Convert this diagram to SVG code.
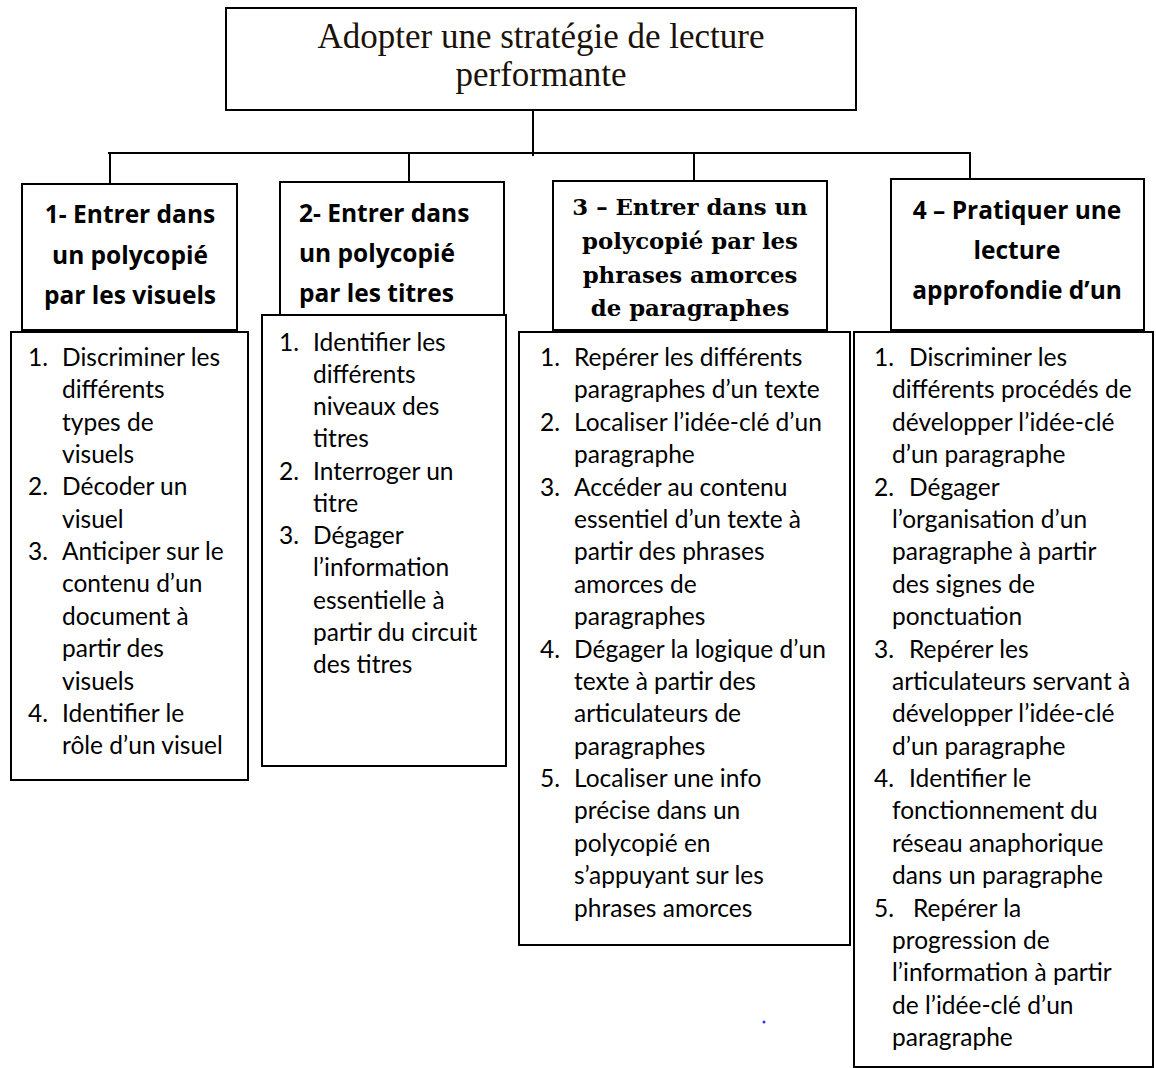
<svg xmlns="http://www.w3.org/2000/svg" width="1156" height="1068" viewBox="0 0 1156 1068">
<style>
.box{fill:#fff;stroke:#000;stroke-width:2}
.ln{stroke:#000;stroke-width:2;fill:none}
.title{font-family:"Liberation Serif",serif;font-size:35px;fill:#1a1208;text-anchor:middle}
.hs{font-family:"Open Sans",Lato,"Liberation Sans",sans-serif;font-weight:bold;font-size:24.5px;fill:#000}
.hser{font-family:"DejaVu Serif","Liberation Serif",serif;font-weight:bold;font-size:22.8px;fill:#000;text-anchor:middle}
.li{font-family:Lato,"Liberation Sans",sans-serif;font-size:24.5px;fill:#000}
.c{text-anchor:middle}
</style>
<rect width="1156" height="1068" fill="#fff"/>
<g id="connectors">
<line class="ln" x1="533" y1="110" x2="533" y2="156"/>
<line class="ln" x1="108" y1="153" x2="971" y2="153"/>
<line class="ln" x1="110" y1="153" x2="110" y2="184"/>
<line class="ln" x1="409" y1="153" x2="409" y2="182"/>
<line class="ln" x1="694" y1="153" x2="694" y2="181"/>
<line class="ln" x1="970" y1="153" x2="970" y2="179"/>
</g>
<g id="node-root">
<rect class="box" x="226" y="8" width="630" height="102"/>
<text class="title" x="541" y="48">Adopter une stratégie de lecture</text>
<text class="title" x="541" y="86">performante</text>
</g>
<g id="node-1">
<rect class="box" x="22" y="184" width="215" height="146"/>
<text class="hs c" x="130" y="223">1- Entrer dans</text>
<text class="hs c" x="130" y="264">un polycopié</text>
<text class="hs c" x="130" y="304">par les visuels</text>
</g>
<g id="node-1-list">
<rect class="box" x="11" y="332" width="237" height="448"/>
<text class="li" x="28" y="366">1.</text>
<text class="li" x="62" y="366">Discriminer les</text>
<text class="li" x="62" y="398">différents</text>
<text class="li" x="62" y="431">types de</text>
<text class="li" x="62" y="463">visuels</text>
<text class="li" x="28" y="495">2.</text>
<text class="li" x="62" y="495">Décoder un</text>
<text class="li" x="62" y="528">visuel</text>
<text class="li" x="28" y="560">3.</text>
<text class="li" x="62" y="560">Anticiper sur le</text>
<text class="li" x="62" y="592">contenu d’un</text>
<text class="li" x="62" y="625">document à</text>
<text class="li" x="62" y="657">partir des</text>
<text class="li" x="62" y="690">visuels</text>
<text class="li" x="28" y="722">4.</text>
<text class="li" x="62" y="722">Identifier le</text>
<text class="li" x="62" y="754">rôle d’un visuel</text>
</g>
<g id="node-2">
<rect class="box" x="280" y="182" width="224" height="133"/>
<text class="hs" x="299" y="222">2- Entrer dans</text>
<text class="hs" x="299" y="262">un polycopié</text>
<text class="hs" x="299" y="302">par les titres</text>
</g>
<g id="node-2-list">
<rect class="box" x="262" y="315" width="244" height="451"/>
<text class="li" x="279" y="351">1.</text>
<text class="li" x="313" y="351">Identifier les</text>
<text class="li" x="313" y="383">différents</text>
<text class="li" x="313" y="415">niveaux des</text>
<text class="li" x="313" y="447">titres</text>
<text class="li" x="279" y="480">2.</text>
<text class="li" x="313" y="480">Interroger un</text>
<text class="li" x="313" y="512">titre</text>
<text class="li" x="279" y="544">3.</text>
<text class="li" x="313" y="544">Dégager</text>
<text class="li" x="313" y="576">l’information</text>
<text class="li" x="313" y="609">essentielle à</text>
<text class="li" x="313" y="641">partir du circuit</text>
<text class="li" x="313" y="673">des titres</text>
</g>
<g id="node-3">
<rect class="box" x="553" y="181" width="274" height="149"/>
<text class="hser" x="690" y="215">3 – Entrer dans un</text>
<text class="hser" x="690" y="249">polycopié par les</text>
<text class="hser" x="690" y="283">phrases amorces</text>
<text class="hser" x="690" y="316">de paragraphes</text>
</g>
<g id="node-3-list">
<rect class="box" x="519" y="332" width="331" height="613"/>
<text class="li" x="540" y="366">1.</text>
<text class="li" x="574" y="366">Repérer les différents</text>
<text class="li" x="574" y="398">paragraphes d’un texte</text>
<text class="li" x="540" y="431">2.</text>
<text class="li" x="574" y="431">Localiser l’idée-clé d’un</text>
<text class="li" x="574" y="463">paragraphe</text>
<text class="li" x="540" y="496">3.</text>
<text class="li" x="574" y="496">Accéder au contenu</text>
<text class="li" x="574" y="528">essentiel d’un texte à</text>
<text class="li" x="574" y="560">partir des phrases</text>
<text class="li" x="574" y="593">amorces de</text>
<text class="li" x="574" y="625">paragraphes</text>
<text class="li" x="540" y="658">4.</text>
<text class="li" x="574" y="658">Dégager la logique d’un</text>
<text class="li" x="574" y="690">texte à partir des</text>
<text class="li" x="574" y="722">articulateurs de</text>
<text class="li" x="574" y="755">paragraphes</text>
<text class="li" x="540" y="787">5.</text>
<text class="li" x="574" y="787">Localiser une info</text>
<text class="li" x="574" y="819">précise dans un</text>
<text class="li" x="574" y="852">polycopié en</text>
<text class="li" x="574" y="884">s’appuyant sur les</text>
<text class="li" x="574" y="917">phrases amorces</text>
</g>
<g id="node-4">
<rect class="box" x="891" y="179" width="253" height="151"/>
<text class="hs c" x="1017" y="219">4 – Pratiquer une</text>
<text class="hs c" x="1017" y="259">lecture</text>
<text class="hs c" x="1017" y="299">approfondie d’un</text>
</g>
<g id="node-4-list">
<rect class="box" x="854" y="332" width="299" height="735"/>
<text class="li" x="874" y="366">1.</text>
<text class="li" x="909" y="366">Discriminer les</text>
<text class="li" x="892" y="398">différents procédés de</text>
<text class="li" x="892" y="431">développer l’idée-clé</text>
<text class="li" x="892" y="463">d’un paragraphe</text>
<text class="li" x="874" y="496">2.</text>
<text class="li" x="909" y="496">Dégager</text>
<text class="li" x="892" y="528">l’organisation d’un</text>
<text class="li" x="892" y="560">paragraphe à partir</text>
<text class="li" x="892" y="593">des signes de</text>
<text class="li" x="892" y="625">ponctuation</text>
<text class="li" x="874" y="658">3.</text>
<text class="li" x="909" y="658">Repérer les</text>
<text class="li" x="892" y="690">articulateurs servant à</text>
<text class="li" x="892" y="722">développer l’idée-clé</text>
<text class="li" x="892" y="755">d’un paragraphe</text>
<text class="li" x="874" y="787">4.</text>
<text class="li" x="909" y="787">Identifier le</text>
<text class="li" x="892" y="819">fonctionnement du</text>
<text class="li" x="892" y="852">réseau anaphorique</text>
<text class="li" x="892" y="884">dans un paragraphe</text>
<text class="li" x="874" y="917">5.</text>
<text class="li" x="913" y="917">Repérer la</text>
<text class="li" x="892" y="949">progression de</text>
<text class="li" x="892" y="981">l’information à partir</text>
<text class="li" x="892" y="1014">de l’idée-clé d’un</text>
<text class="li" x="892" y="1046">paragraphe</text>
</g>
<circle cx="764" cy="1022" r="1.5" fill="#3030ff"/>
</svg>
